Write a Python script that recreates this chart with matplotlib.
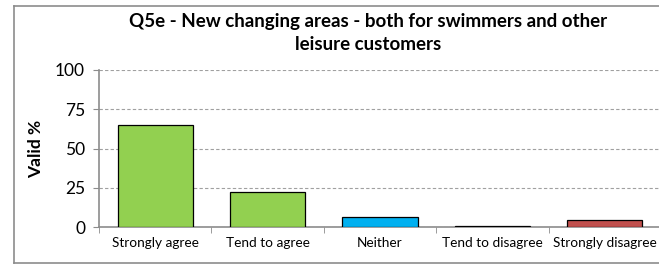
import matplotlib
matplotlib.use("Agg")
import matplotlib.pyplot as plt
from matplotlib.lines import Line2D
import numpy as np

# data
categories = ["Strongly agree", "Tend to agree", "Neither", "Tend to disagree", "Strongly disagree"]
values = [65.0, 22.0, 6.6, 0.8, 4.7]
colors = ["#92D050", "#92D050", "#00B0F0", "#C0504D", "#C0504D"]
yticks = [0, 25, 50, 75, 100]

plt.rcParams['font.family'] = ['Lato', 'DejaVu Sans']

W, H = 659, 264
fig = plt.figure(figsize=(W / 100, H / 100), dpi=100)

# chart frame (left, top, bottom; right edge is off the picture)
fx0, fy0, fy1 = 13.5 / W, 1 - 262.5 / H, 1 - 5.5 / H
for xs, ys in [([fx0, fx0], [fy0, fy1]), ([fx0, 1.05], [fy1, fy1]), ([fx0, 1.05], [fy0, fy0])]:
    fig.lines.append(Line2D(xs, ys, transform=fig.transFigure, color="#8c8c8c", linewidth=1.2))

ax = fig.add_axes([99 / W, 1 - 227 / H, (661 - 99) / W, (227 - 70) / H])

x = np.arange(len(categories))
ax.bar(x, values, width=0.67, color=colors, edgecolor="black", linewidth=0.9, zorder=3)

ax.set_xlim(-0.5, len(categories) - 0.5)
ax.set_ylim(0, 100)
ax.set_yticks(yticks)
ax.set_yticklabels([str(v) for v in yticks], fontsize=12.5)
ax.set_xticks(x)
ax.set_xticklabels(categories, fontsize=9.8)
ax.tick_params(axis="x", length=0, pad=7)
ax.set_xticks(np.arange(len(categories) + 1) - 0.5, minor=True)
ax.tick_params(axis="x", which="minor", length=4, color="#8c8c8c", direction="out")
ax.tick_params(axis="y", length=4, color="#8c8c8c", direction="out", pad=6)

ax.grid(axis="y", linestyle=(0, (3, 2)), color="#a0a0a0", linewidth=0.8, zorder=0)
for s in ["top", "right"]:
    ax.spines[s].set_visible(False)
for s in ["left", "bottom"]:
    ax.spines[s].set_color("#8c8c8c")
    ax.spines[s].set_linewidth(1.2)

ax.set_ylabel("Valid %", fontsize=12.5, fontweight="bold", labelpad=8)

fig.text(368 / W, 1 - 21 / H, "Q5e - New changing areas - both for swimmers and other",
         ha="center", va="center", fontsize=13.5, fontweight="bold")
fig.text(368 / W, 1 - 45 / H, "leisure customers",
         ha="center", va="center", fontsize=13.5, fontweight="bold")

fig.savefig("out.png", dpi=100)
